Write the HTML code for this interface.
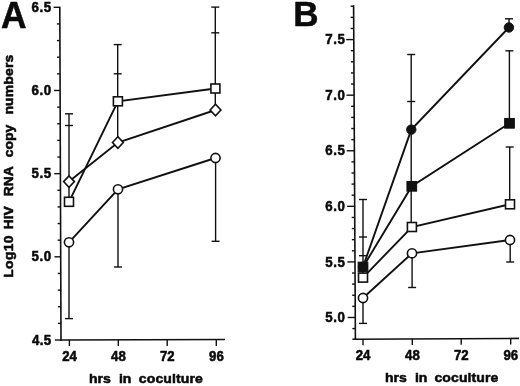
<!DOCTYPE html>
<html><head><meta charset="utf-8"><title>Figure</title>
<style>
html,body{margin:0;padding:0;background:#fff;}
body{width:520px;height:386px;overflow:hidden;}
svg{display:block;}
text{font-family:"Liberation Sans",Arial,Helvetica,sans-serif;font-weight:bold;fill:#0a0a0a;stroke:#0a0a0a;stroke-width:0.55;stroke-linejoin:round;}
.l{stroke:#111;stroke-width:1.4;fill:none;stroke-linecap:butt;}
.d{stroke:#111;stroke-width:1.9;fill:none;}
.o{stroke:#111;stroke-width:1.6;fill:#fff;}
.f{stroke:#111;stroke-width:1;fill:#111;}
.ax{stroke:#111;stroke-width:1.6;fill:none;}
</style></head><body>
<svg width="520" height="386" viewBox="0 0 520 386">
<rect width="520" height="386" fill="#fff"/>
<line class="ax" x1="59.80" y1="6.80" x2="61.00" y2="340.80"/>
<line class="ax" x1="60.20" y1="340.00" x2="225.00" y2="339.50"/>
<line class="l" x1="53.60" y1="7.30" x2="59.80" y2="7.30"/>
<line class="l" x1="56.86" y1="23.93" x2="59.86" y2="23.93"/>
<line class="l" x1="56.92" y1="40.57" x2="59.92" y2="40.57"/>
<line class="l" x1="56.98" y1="57.20" x2="59.98" y2="57.20"/>
<line class="l" x1="57.04" y1="73.84" x2="60.04" y2="73.84"/>
<line class="l" x1="53.90" y1="90.47" x2="60.10" y2="90.47"/>
<line class="l" x1="57.16" y1="107.11" x2="60.16" y2="107.11"/>
<line class="l" x1="57.22" y1="123.75" x2="60.22" y2="123.75"/>
<line class="l" x1="57.28" y1="140.38" x2="60.28" y2="140.38"/>
<line class="l" x1="57.34" y1="157.02" x2="60.34" y2="157.02"/>
<line class="l" x1="54.20" y1="173.65" x2="60.40" y2="173.65"/>
<line class="l" x1="57.46" y1="190.28" x2="60.46" y2="190.28"/>
<line class="l" x1="57.52" y1="206.92" x2="60.52" y2="206.92"/>
<line class="l" x1="57.58" y1="223.55" x2="60.58" y2="223.55"/>
<line class="l" x1="57.64" y1="240.19" x2="60.64" y2="240.19"/>
<line class="l" x1="54.50" y1="256.82" x2="60.70" y2="256.82"/>
<line class="l" x1="57.76" y1="273.46" x2="60.76" y2="273.46"/>
<line class="l" x1="57.82" y1="290.10" x2="60.82" y2="290.10"/>
<line class="l" x1="57.88" y1="306.73" x2="60.88" y2="306.73"/>
<line class="l" x1="57.94" y1="323.37" x2="60.94" y2="323.37"/>
<line class="l" x1="54.80" y1="340.00" x2="61.00" y2="340.00"/>
<text transform="translate(51.90,11.90) scale(0.95,1)" font-size="14" text-anchor="end" letter-spacing="0.7">6.5</text>
<text transform="translate(51.90,95.07) scale(0.95,1)" font-size="14" text-anchor="end" letter-spacing="0.7">6.0</text>
<text transform="translate(51.90,178.25) scale(0.95,1)" font-size="14" text-anchor="end" letter-spacing="0.7">5.5</text>
<text transform="translate(51.90,261.43) scale(0.95,1)" font-size="14" text-anchor="end" letter-spacing="0.7">5.0</text>
<text transform="translate(51.30,344.60) scale(0.95,1)" font-size="14" text-anchor="end" letter-spacing="0.25">4.5</text>
<line class="l" x1="69.40" y1="339.80" x2="69.40" y2="346.00"/>
<text transform="translate(69.50,361.00) scale(0.93,1)" font-size="14.2" text-anchor="middle" >24</text>
<line class="l" x1="118.30" y1="339.80" x2="118.30" y2="346.00"/>
<text transform="translate(118.40,361.00) scale(0.93,1)" font-size="14.2" text-anchor="middle" >48</text>
<line class="l" x1="167.20" y1="339.80" x2="167.20" y2="346.00"/>
<text transform="translate(167.30,361.00) scale(0.93,1)" font-size="14.2" text-anchor="middle" >72</text>
<line class="l" x1="216.30" y1="339.80" x2="216.30" y2="346.00"/>
<text transform="translate(216.40,361.00) scale(0.93,1)" font-size="14.2" text-anchor="middle" >96</text>
<line class="l" x1="69.00" y1="242.30" x2="69.00" y2="318.60"/>
<line class="l" x1="65.00" y1="318.60" x2="73.00" y2="318.60"/>
<line class="l" x1="118.00" y1="189.30" x2="118.00" y2="267.00"/>
<line class="l" x1="114.00" y1="267.00" x2="122.00" y2="267.00"/>
<line class="l" x1="215.60" y1="158.00" x2="215.60" y2="241.30"/>
<line class="l" x1="211.60" y1="241.30" x2="219.60" y2="241.30"/>
<line class="l" x1="69.00" y1="113.80" x2="69.00" y2="201.80"/>
<line class="l" x1="65.00" y1="113.80" x2="73.00" y2="113.80"/>
<line class="l" x1="65.00" y1="125.50" x2="73.00" y2="125.50"/>
<line class="l" x1="117.70" y1="44.60" x2="117.70" y2="142.50"/>
<line class="l" x1="113.70" y1="44.60" x2="121.70" y2="44.60"/>
<line class="l" x1="113.70" y1="73.80" x2="121.70" y2="73.80"/>
<line class="l" x1="215.30" y1="7.10" x2="215.30" y2="110.00"/>
<line class="l" x1="211.30" y1="7.10" x2="219.30" y2="7.10"/>
<line class="l" x1="211.30" y1="32.80" x2="219.30" y2="32.80"/>
<polyline class="d" points="69.00,242.30 118.00,189.30 215.50,158.00"/>
<polyline class="d" points="69.00,201.80 117.90,101.30 215.40,88.50"/>
<polyline class="d" points="69.00,181.60 117.90,142.50 215.50,110.00"/>
<circle class="o" cx="69.00" cy="242.30" r="4.60"/>
<circle class="o" cx="118.00" cy="189.30" r="4.60"/>
<circle class="o" cx="215.50" cy="158.00" r="4.60"/>
<rect class="o" x="64.50" y="197.30" width="9.00" height="9.00"/>
<rect class="o" x="113.40" y="96.80" width="9.00" height="9.00"/>
<rect class="o" x="210.90" y="84.00" width="9.00" height="9.00"/>
<polygon class="o" points="63.60,181.60 69.00,175.85 74.40,181.60 69.00,187.35"/>
<polygon class="o" points="112.50,142.50 117.90,136.75 123.30,142.50 117.90,148.25"/>
<polygon class="o" points="210.10,110.00 215.50,104.25 220.90,110.00 215.50,115.75"/>
<text transform="translate(1.10,28.20) scale(0.97,1)" font-size="36.5" text-anchor="start" stroke-width="0.4">A</text>
<text transform="translate(89.00,382.60) scale(1.04,1)" font-size="13.5" text-anchor="start" >hrs</text>
<text transform="translate(118.90,382.60) scale(1.04,1)" font-size="13.5" text-anchor="start" >in</text>
<text transform="translate(138.80,382.60) scale(1.04,1)" font-size="13.5" text-anchor="start" letter-spacing="0.1">coculture</text>
<text transform="translate(12.6,277.80) rotate(-90) scale(1.03,1)" font-size="13.5" letter-spacing="0.35">Log10</text>
<text transform="translate(12.6,229.30) rotate(-90) scale(1.03,1)" font-size="13.5" letter-spacing="0">HIV</text>
<text transform="translate(12.6,196.20) rotate(-90) scale(1.03,1)" font-size="13.5" letter-spacing="-0.1">RNA</text>
<text transform="translate(12.6,157.20) rotate(-90) scale(1.03,1)" font-size="13.5" letter-spacing="0">copy</text>
<text transform="translate(12.6,114.60) rotate(-90) scale(1.03,1)" font-size="13.5" letter-spacing="0.2">numbers</text>
<line class="ax" x1="353.60" y1="5.30" x2="355.40" y2="340.10"/>
<line class="ax" x1="352.40" y1="339.30" x2="519.00" y2="338.40"/>
<line class="l" x1="350.61" y1="6.26" x2="353.61" y2="6.26"/>
<line class="l" x1="350.66" y1="17.37" x2="353.66" y2="17.37"/>
<line class="l" x1="350.72" y1="28.49" x2="353.72" y2="28.49"/>
<line class="l" x1="346.18" y1="39.60" x2="353.78" y2="39.60"/>
<line class="l" x1="350.84" y1="50.72" x2="353.84" y2="50.72"/>
<line class="l" x1="350.90" y1="61.83" x2="353.90" y2="61.83"/>
<line class="l" x1="350.96" y1="72.95" x2="353.96" y2="72.95"/>
<line class="l" x1="351.02" y1="84.06" x2="354.02" y2="84.06"/>
<line class="l" x1="346.48" y1="95.18" x2="354.08" y2="95.18"/>
<line class="l" x1="351.14" y1="106.29" x2="354.14" y2="106.29"/>
<line class="l" x1="351.20" y1="117.41" x2="354.20" y2="117.41"/>
<line class="l" x1="351.26" y1="128.52" x2="354.26" y2="128.52"/>
<line class="l" x1="351.32" y1="139.64" x2="354.32" y2="139.64"/>
<line class="l" x1="346.78" y1="150.75" x2="354.38" y2="150.75"/>
<line class="l" x1="351.44" y1="161.87" x2="354.44" y2="161.87"/>
<line class="l" x1="351.50" y1="172.98" x2="354.50" y2="172.98"/>
<line class="l" x1="351.56" y1="184.10" x2="354.56" y2="184.10"/>
<line class="l" x1="351.62" y1="195.21" x2="354.62" y2="195.21"/>
<line class="l" x1="347.08" y1="206.33" x2="354.68" y2="206.33"/>
<line class="l" x1="351.74" y1="217.44" x2="354.74" y2="217.44"/>
<line class="l" x1="351.80" y1="228.56" x2="354.80" y2="228.56"/>
<line class="l" x1="351.86" y1="239.67" x2="354.86" y2="239.67"/>
<line class="l" x1="351.92" y1="250.79" x2="354.92" y2="250.79"/>
<line class="l" x1="347.38" y1="261.90" x2="354.98" y2="261.90"/>
<line class="l" x1="352.04" y1="273.02" x2="355.04" y2="273.02"/>
<line class="l" x1="352.10" y1="284.13" x2="355.10" y2="284.13"/>
<line class="l" x1="352.16" y1="295.25" x2="355.16" y2="295.25"/>
<line class="l" x1="352.22" y1="306.36" x2="355.22" y2="306.36"/>
<line class="l" x1="347.68" y1="317.48" x2="355.28" y2="317.48"/>
<line class="l" x1="352.34" y1="328.59" x2="355.34" y2="328.59"/>
<text transform="translate(345.60,44.30) scale(0.95,1)" font-size="14" text-anchor="end" letter-spacing="0.7">7.5</text>
<text transform="translate(345.60,99.88) scale(0.95,1)" font-size="14" text-anchor="end" letter-spacing="0.7">7.0</text>
<text transform="translate(345.60,155.45) scale(0.95,1)" font-size="14" text-anchor="end" letter-spacing="0.7">6.5</text>
<text transform="translate(345.60,211.03) scale(0.95,1)" font-size="14" text-anchor="end" letter-spacing="0.7">6.0</text>
<text transform="translate(345.60,266.60) scale(0.95,1)" font-size="14" text-anchor="end" letter-spacing="0.7">5.5</text>
<text transform="translate(345.60,322.18) scale(0.95,1)" font-size="14" text-anchor="end" letter-spacing="0.7">5.0</text>
<line class="l" x1="363.00" y1="339.04" x2="363.00" y2="345.24"/>
<text transform="translate(363.10,360.40) scale(0.93,1)" font-size="14.2" text-anchor="middle" >24</text>
<line class="l" x1="412.30" y1="338.78" x2="412.30" y2="344.98"/>
<text transform="translate(412.40,360.13) scale(0.93,1)" font-size="14.2" text-anchor="middle" >48</text>
<line class="l" x1="461.20" y1="338.51" x2="461.20" y2="344.71"/>
<text transform="translate(461.30,359.87) scale(0.93,1)" font-size="14.2" text-anchor="middle" >72</text>
<line class="l" x1="510.70" y1="338.24" x2="510.70" y2="344.44"/>
<text transform="translate(510.80,359.60) scale(0.93,1)" font-size="14.2" text-anchor="middle" >96</text>
<line class="l" x1="363.00" y1="298.00" x2="363.00" y2="323.40"/>
<line class="l" x1="359.00" y1="323.40" x2="367.00" y2="323.40"/>
<line class="l" x1="412.10" y1="253.30" x2="412.10" y2="287.50"/>
<line class="l" x1="408.10" y1="287.50" x2="416.10" y2="287.50"/>
<line class="l" x1="510.20" y1="240.00" x2="510.20" y2="262.00"/>
<line class="l" x1="506.20" y1="262.00" x2="514.20" y2="262.00"/>
<line class="l" x1="363.00" y1="199.50" x2="363.00" y2="277.60"/>
<line class="l" x1="359.00" y1="199.50" x2="367.00" y2="199.50"/>
<line class="l" x1="359.00" y1="237.00" x2="367.00" y2="237.00"/>
<line class="l" x1="359.00" y1="255.70" x2="367.00" y2="255.70"/>
<line class="l" x1="411.20" y1="54.50" x2="411.20" y2="227.00"/>
<line class="l" x1="407.20" y1="54.50" x2="415.20" y2="54.50"/>
<line class="l" x1="407.20" y1="101.50" x2="415.20" y2="101.50"/>
<line class="l" x1="509.00" y1="18.80" x2="509.00" y2="27.50"/>
<line class="l" x1="505.00" y1="18.80" x2="513.00" y2="18.80"/>
<line class="l" x1="509.40" y1="50.80" x2="509.40" y2="123.30"/>
<line class="l" x1="505.40" y1="50.80" x2="513.40" y2="50.80"/>
<line class="l" x1="509.70" y1="147.00" x2="509.70" y2="204.30"/>
<line class="l" x1="505.70" y1="147.00" x2="513.70" y2="147.00"/>
<polyline class="d" points="363.00,266.90 411.30,129.60 508.90,27.50"/>
<polyline class="d" points="363.00,267.00 411.80,186.30 509.50,123.30"/>
<polyline class="d" points="363.00,277.60 411.90,227.00 510.00,204.30"/>
<polyline class="d" points="363.00,298.00 412.00,253.30 510.00,240.00"/>
<circle class="f" cx="363.00" cy="266.90" r="4.70"/>
<circle class="f" cx="411.30" cy="129.60" r="4.70"/>
<circle class="f" cx="508.90" cy="27.50" r="4.70"/>
<rect class="f" x="358.15" y="262.15" width="9.70" height="9.70"/>
<rect class="f" x="406.95" y="181.45" width="9.70" height="9.70"/>
<rect class="f" x="504.65" y="118.45" width="9.70" height="9.70"/>
<rect class="o" x="358.50" y="273.10" width="9.00" height="9.00"/>
<rect class="o" x="407.40" y="222.50" width="9.00" height="9.00"/>
<rect class="o" x="505.50" y="199.80" width="9.00" height="9.00"/>
<circle class="o" cx="363.00" cy="298.00" r="4.60"/>
<circle class="o" cx="412.00" cy="253.30" r="4.60"/>
<circle class="o" cx="510.00" cy="240.00" r="4.60"/>
<text transform="translate(293.20,26.20) scale(0.99,1)" font-size="35.4" text-anchor="start" stroke-width="0.3">B</text>
<text transform="translate(385.00,381.90) scale(1.04,1)" font-size="13.5" text-anchor="start" >hrs</text>
<text transform="translate(414.90,381.90) scale(1.04,1)" font-size="13.5" text-anchor="start" >in</text>
<text transform="translate(434.40,381.90) scale(1.04,1)" font-size="13.5" text-anchor="start" letter-spacing="0.1">coculture</text>
</svg>
</body></html>
